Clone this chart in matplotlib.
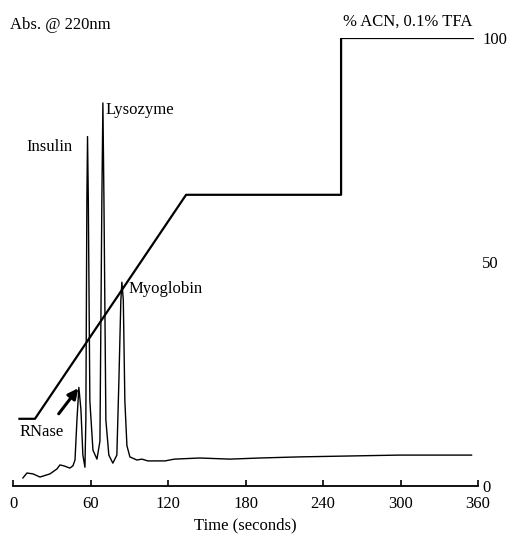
import matplotlib
matplotlib.use("Agg")
import matplotlib.pyplot as plt

# Absorbance trace (time in s, absorbance in arbitrary units)
trace_t = [7.7, 10.8, 15.5, 20.9, 28.6, 34.0, 36.3, 39.4, 44.0, 46.4,
           48.0, 49.5, 51.0, 52.6, 54.1, 55.7,
           56.4, 57.2, 57.7, 58.3, 59.5, 61.9, 65.0,
           67.3, 68.8, 69.6, 70.4, 71.9, 74.2, 77.3,
           80.4, 82.0, 83.5, 84.3, 85.4, 86.6, 88.2, 90.5, 95.9,
           99.8, 104.4, 117.6, 125.0, 144.6, 168.0, 191.0, 222.0, 260.6, 299.0, 355.0]
trace_a = [0.018, 0.029, 0.027, 0.020, 0.027, 0.038, 0.047, 0.045, 0.040, 0.045,
           0.058, 0.147, 0.220, 0.170, 0.069, 0.042,
           0.147, 0.640, 0.780, 0.640, 0.190, 0.080, 0.060,
           0.100, 0.640, 0.855, 0.640, 0.147, 0.069, 0.051,
           0.069, 0.237, 0.415, 0.455, 0.415, 0.190, 0.090, 0.065, 0.058,
           0.060, 0.056, 0.056, 0.060, 0.0625, 0.060, 0.0625, 0.065, 0.067, 0.069, 0.069]

# Gradient program (% ACN)
grad_t = [5, 17, 134, 254, 254, 356]
grad_pct = [15, 15, 65, 65, 100, 100]

x_ticks = [0, 60, 120, 180, 240, 300, 360]
y2_ticks = [0, 50, 100]

# Peak labels
peak_names = ["Insulin", "Lysozyme", "Myoglobin", "RNase"]

plt.rcParams['font.family'] = ['Liberation Serif', 'DejaVu Serif']

fig = plt.figure(figsize=(5.07, 5.38), dpi=100)
ax = fig.add_axes([13/507, 52/538, 465/507, 448/538])
ax2 = ax.twinx()

ax.plot(trace_t, trace_a, color='black', lw=1.0)
ax2.plot(grad_t, grad_pct, color='black', lw=1.6)

ax.set_xlim(0, 360)
ax.set_ylim(0, 1)
ax2.set_ylim(0, 100)

for a in (ax, ax2):
    for s in ['top', 'left', 'right']:
        a.spines[s].set_visible(False)
ax2.spines['bottom'].set_visible(False)
ax.spines['bottom'].set_linewidth(1.3)

ax.set_xticks(x_ticks)
ax.set_xticklabels([str(v) for v in x_ticks], fontsize=12)
ax.tick_params(axis='x', direction='in', length=4, width=1.2, pad=7)
ax.set_yticks([])
ax.set_xlabel("Time (seconds)", fontsize=12, labelpad=4)

ax2.set_yticks(y2_ticks)
ax2.set_yticklabels([str(v) for v in y2_ticks], fontsize=12)
ax2.tick_params(axis='y', length=0, pad=3)

fs = 12
ax.text(10/507, 1 - 25/538, "Abs. @ 220nm", transform=fig.transFigure, fontsize=fs,
        ha='left', va='center')
ax.text(343/507, 1 - 22/538, "% ACN, 0.1% TFA", transform=fig.transFigure, fontsize=fs,
        ha='left', va='center')

def px(x, y):
    return ((x - 13) / 465 * 360, (486 - y) / 448)

ax.text(*px(26, 147), peak_names[0], fontsize=fs, ha='left', va='center')
ax.text(*px(106, 110), peak_names[1], fontsize=fs, ha='left', va='center')
ax.text(*px(129, 289), peak_names[2], fontsize=fs, ha='left', va='center')
ax.text(*px(20, 432), peak_names[3], fontsize=fs, ha='left', va='center')

ax.annotate("", xy=px(80, 386), xytext=px(57, 416),
            arrowprops=dict(arrowstyle='-|>,head_length=0.6,head_width=0.3',
                            color='black', lw=2.2))

fig.savefig("out.png", dpi=100)
